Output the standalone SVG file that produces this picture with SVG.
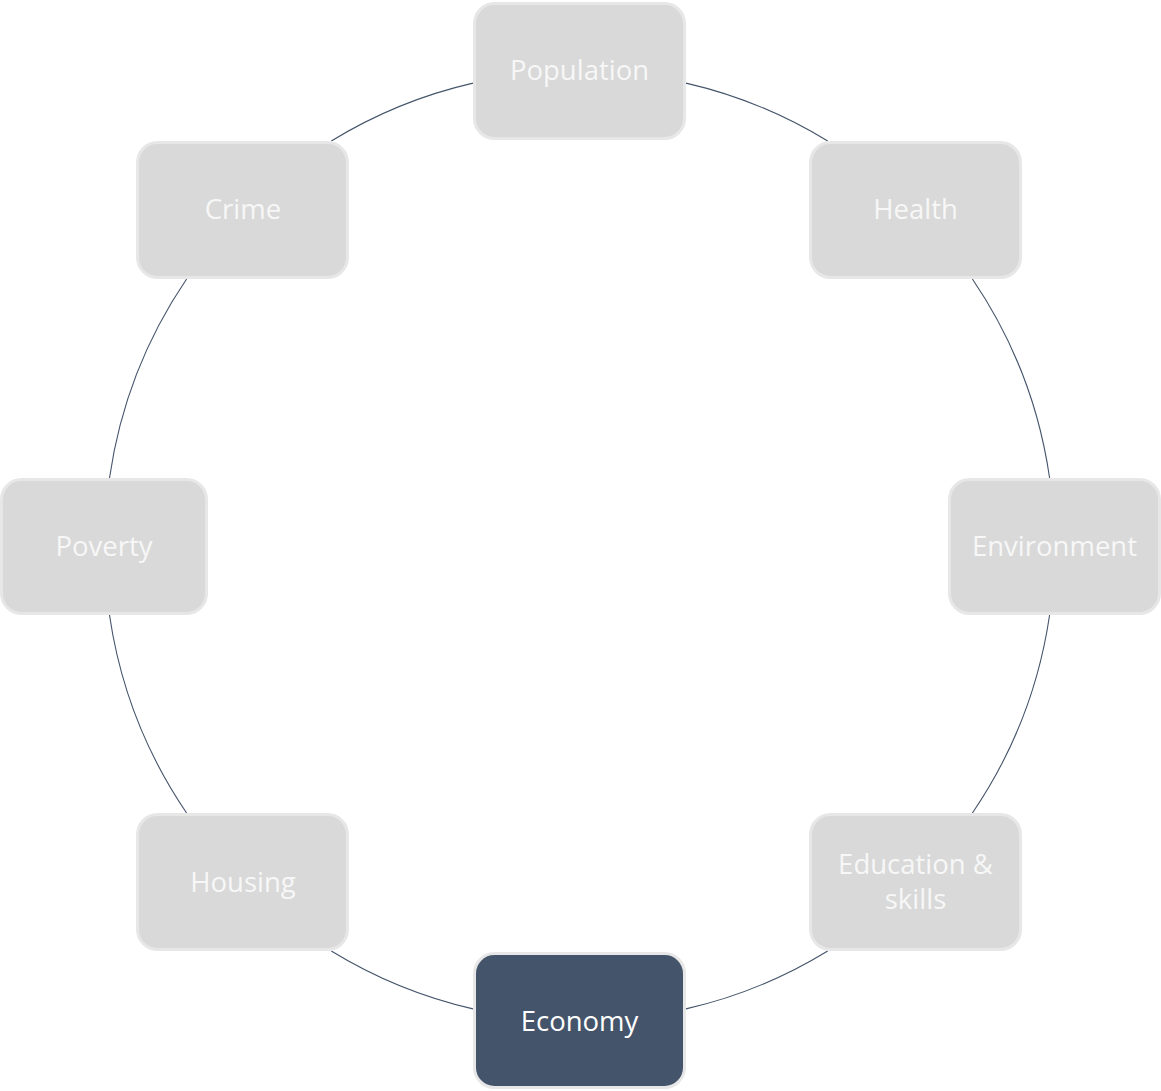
<svg xmlns="http://www.w3.org/2000/svg" width="1161" height="1091" viewBox="0 0 1161 1091">
<style>
.n rect{fill:#d9d9d9;stroke:#e7e7e7;stroke-width:3}
.n text{fill:#f7f7f7;font-family:"Open Sans","Liberation Sans",sans-serif;font-size:27.5px;text-anchor:middle}
#economy rect{fill:#44546a}
#economy text{fill:#ffffff}
.c path{fill:none;stroke:#44546a;stroke-width:1.1}
</style>
<rect width="1161" height="1091" fill="#ffffff"/>
<g class="c" id="connectors">
<path d="M686,83.1 A475,475 0 0 1 827.7,141"/>
<path d="M972.4,279 A475,475 0 0 1 1049.6,478"/>
<path d="M1049.6,615 A475,475 0 0 1 972.4,813"/>
<path d="M827.7,951 A475,475 0 0 1 686,1008.9"/>
<path d="M473,1008.9 A475,475 0 0 1 331.3,951"/>
<path d="M186.6,813 A475,475 0 0 1 109.5,615"/>
<path d="M109.5,478 A475,475 0 0 1 186.6,279"/>
<path d="M331.3,141 A475,475 0 0 1 473,83.1"/>
</g>
<g class="n" id="population"><rect x="474.5" y="3.5" width="210" height="135" rx="20"/><text x="579.5" y="80">Population</text></g>
<g class="n" id="health"><rect x="810.5" y="142.5" width="210" height="135" rx="20"/><text x="915.5" y="219">Health</text></g>
<g class="n" id="environment"><rect x="949.5" y="479.5" width="210" height="134" rx="20"/><text x="1054.5" y="556">Environment</text></g>
<g class="n" id="education"><rect x="810.5" y="814.5" width="210" height="135" rx="20"/><text x="915.5" y="874">Education &amp;</text><text x="915.5" y="909">skills</text></g>
<g class="n" id="economy"><rect x="474.5" y="953.5" width="210" height="134" rx="20"/><text x="579.5" y="1031">Economy</text></g>
<g class="n" id="housing"><rect x="137.5" y="814.5" width="210" height="135" rx="20"/><text x="243" y="892">Housing</text></g>
<g class="n" id="poverty"><rect x="1.5" y="479.5" width="205" height="134" rx="20"/><text x="104" y="556">Poverty</text></g>
<g class="n" id="crime"><rect x="137.5" y="142.5" width="210" height="135" rx="20"/><text x="243" y="219">Crime</text></g>
</svg>
